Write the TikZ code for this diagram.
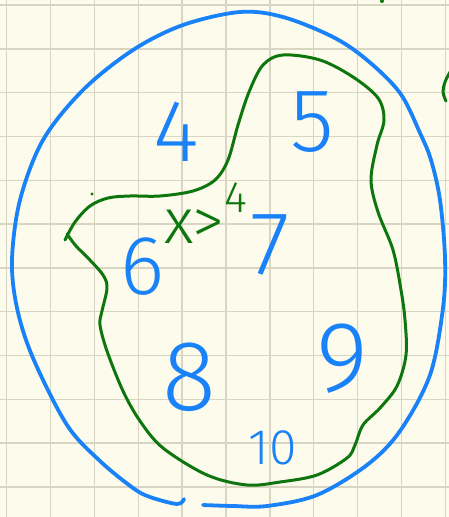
\documentclass[tikz,border=0pt]{standalone}
\usepackage{fontspec}
\newfontfamily\hand{Fira Sans Light}
\definecolor{paper}{HTML}{FDFBEB}
\definecolor{gridc}{HTML}{D9D5C3}
\definecolor{inkblue}{HTML}{1A82F8}
\definecolor{inkgreen}{HTML}{0E760E}
\tikzset{
  gridline/.style={draw=gridc, line width=1.4pt},
  bluestroke/.style={draw=inkblue, line width=3.8pt, line cap=round, line join=round},
  greenstroke/.style={draw=inkgreen, line width=3pt, line cap=round, line join=round},
  bluenum/.style={text=inkblue, inner sep=0pt, font=\hand},
  greennum/.style={text=inkgreen, inner sep=0pt, font=\hand},
}
\begin{document}
\begin{tikzpicture}[x=1pt,y=-1pt]
\fill[paper] (0,0) rectangle (449,517);
\useasboundingbox (0,0) rectangle (449,517);
% grid
\foreach \k in {0,...,10} {
  \draw[gridline] ({6.7+43.85*\k},0) -- ({6.7+43.85*\k},517);
}
\foreach \k in {0,...,11} {
  \draw[gridline] (0,{5+43.8*\k}) -- (449,{5+43.8*\k});
}
% blue outer curve
\draw[bluestroke] plot[smooth, tension=0.55] coordinates {
  (203,505) (233,506) (267,506) (317,495) (367,465) (400,431) (430,375)
  (443,308) (445,258) (440,200) (431,160) (420,133) (400,93) (367,60)
  (333,37) (283,17) (240,12) (183,25) (133,50) (83,90) (43,140) (20,200)
  (12,260) (17,308) (33,358) (67,425) (100,461) (133,488) (150,497)
  (177,504) (184,499)};
% green inner curve
\draw[greenstroke] plot[smooth, tension=0.55] coordinates {
  (65,240) (75,222) (90,206) (108,198) (130,196) (160,196) (193,191)
  (215,180) (228,160) (238,125) (249,92) (263,65) (283,55) (320,60)
  (353,77) (378,98) (384,120) (377,145) (371,180) (378,212) (393,250)
  (401,290) (405,320) (406,355) (397,386) (380,408) (363,425) (355,445)
  (347,458) (317,475) (280,482) (247,485) (207,475) (163,448) (140,421)
  (123,391) (107,351) (100,325) (102,311) (107,288) (103,275) (88,258)
  (76,246) (67,234)};
% stray green marks
\fill[inkgreen] (92,194) circle (1.6pt);
\fill[inkgreen] (382,1) circle (2pt);
\draw[greenstroke] plot[smooth, tension=0.6] coordinates {(450,72) (445,82) (443,92) (446,101)};
% labels
\node[bluenum, font=\hand\fontsize{88}{88}\selectfont] (n4) at (176,132) {4};
\node[bluenum, font=\hand\fontsize{90}{90}\selectfont] (n5) at (312,122) {5};
\node[bluenum, font=\hand\fontsize{84}{84}\selectfont] (n6) at (143,267) {6};
\node[bluenum, font=\hand\fontsize{90}{90}\selectfont] (n7) at (270,245) {7};
\node[bluenum, font=\hand\fontsize{100}{100}\selectfont] (n8) at (189,377) {8};
\node[bluenum, font=\hand\fontsize{100}{100}\selectfont] (n9) at (342,359) {9};
\node[bluenum, font=\hand\fontsize{50}{50}\selectfont] (n10) at (273,448) {10};
\node[greennum, font=\hand\fontsize{64}{64}\selectfont, anchor=base west] (cond) at (164,243) {x>\raisebox{31pt}{\fontsize{44}{44}\selectfont 4}};
\end{tikzpicture}
\end{document}
